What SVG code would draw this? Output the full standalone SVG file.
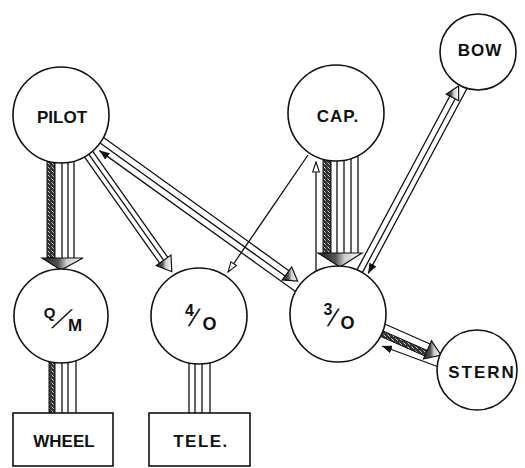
<svg xmlns="http://www.w3.org/2000/svg" width="525" height="468" viewBox="0 0 525 468">
<style>
.nd{fill:#fff;stroke:#111;stroke-width:1.6}
.ln{stroke:#111;stroke-width:1.3;fill:none}
.lb{font-family:"Liberation Sans",Arial,sans-serif;font-weight:bold;font-size:17px;fill:#111;text-anchor:middle}
.fr{font-family:"Liberation Sans",Arial,sans-serif;font-weight:bold;fill:#111;text-anchor:middle}
.sl{font-family:"Liberation Sans",Arial,sans-serif;font-weight:normal;fill:#111;text-anchor:middle}
.hd{fill:url(#hg);stroke:#111;stroke-width:1.2}
.band{fill:url(#grit);stroke:#111;stroke-width:1}
</style>
<defs>
<pattern id="grit" width="4" height="4" patternUnits="userSpaceOnUse">
<rect width="4" height="4" fill="#333"/>
<rect x="1" y="0" width="1" height="1" fill="#aaa"/>
<rect x="3" y="2" width="1" height="1" fill="#888"/>
<rect x="0" y="3" width="1" height="1" fill="#ccc"/>
</pattern>
<linearGradient id="hg" x1="0" y1="0" x2="1" y2="0">
<stop offset="0" stop-color="#222"/>
<stop offset="0.4" stop-color="#555"/>
<stop offset="0.6" stop-color="#ccc"/>
<stop offset="1" stop-color="#fff"/>
</linearGradient>
<marker id="af" viewBox="0 0 10 8" refX="10" refY="4" markerWidth="10" markerHeight="8" markerUnits="userSpaceOnUse" orient="auto">
<path d="M0,0 L10,4 L0,8 Z" fill="#111"/>
</marker>
<marker id="ao" viewBox="0 0 12 8" refX="11" refY="4" markerWidth="12" markerHeight="8" markerUnits="userSpaceOnUse" orient="auto">
<path d="M1,0.7 L11,4 L1,7.3 Z" fill="#fff" stroke="#111" stroke-width="1.1"/>
</marker>
</defs>

<g id="connectors">
<g id="pilot-qm">
<rect class="band" x="47" y="140" width="8" height="118"/>
<line class="ln" x1="62" y1="140" x2="62" y2="258"/>
<line class="ln" x1="68" y1="140" x2="68" y2="258"/>
<line class="ln" x1="74" y1="140" x2="74" y2="258"/>
<polygon class="hd" points="42,258 83,258 61,270"/>
</g>
<g id="qm-wheel">
<rect class="band" x="49" y="345" width="6" height="68"/>
<line class="ln" x1="62" y1="345" x2="62" y2="413"/>
<line class="ln" x1="68" y1="345" x2="68" y2="413"/>
<line class="ln" x1="76" y1="345" x2="76" y2="413"/>
</g>
<g id="fo-tele">
<line class="ln" x1="189" y1="345" x2="189" y2="413"/>
<line class="ln" x1="195" y1="345" x2="195" y2="413"/>
<line class="ln" x1="202" y1="345" x2="202" y2="413"/>
<line class="ln" x1="210" y1="345" x2="210" y2="413"/>
</g>
<g id="pilot-fo">
<line class="ln" x1="80" y1="150.6" x2="159.6" y2="263.2"/>
<line class="ln" x1="84.1" y1="147.7" x2="163.7" y2="260.3"/>
<line class="ln" x1="88.2" y1="144.8" x2="167.8" y2="257.4"/>
<polygon class="hd" points="156.3,265.5 171,255.1 171.8,271.7"/>
</g>
<g id="pilot-to">
<line class="ln" x1="97.3" y1="133" x2="288.9" y2="270.7"/>
<line class="ln" x1="93.5" y1="138.3" x2="285.1" y2="276"/>
<polygon class="hd" points="282.3,279.9 291.7,266.9 297.6,281"/>
<line class="ln" x1="300.8" y1="295.3" x2="99.4" y2="150.6" marker-end="url(#af)"/>
</g>
<line id="cap-fo" class="ln" x1="308" y1="155" x2="228" y2="272" marker-end="url(#ao)"/>
<g id="cap-to">
<line class="ln" x1="316" y1="290" x2="316" y2="162" marker-end="url(#ao)"/>
<rect class="band" x="323" y="140" width="8" height="113"/>
<line class="ln" x1="337" y1="140" x2="337" y2="253"/>
<line class="ln" x1="344" y1="140" x2="344" y2="253"/>
<line class="ln" x1="351" y1="140" x2="351" y2="253"/>
<line class="ln" x1="358" y1="140" x2="358" y2="253"/>
<polygon class="hd" points="318,253 362,253 340,267"/>
</g>
<g id="to-bow">
<line class="ln" x1="348.6" y1="285.6" x2="449.9" y2="96"/>
<line class="ln" x1="353.9" y1="288.4" x2="455.2" y2="98.8"/>
<polygon class="hd" points="446.3,94.1 458.7,100.7 458.6,85.9"/>
<line class="ln" x1="474.2" y1="75" x2="368.2" y2="273.4" marker-end="url(#af)"/>
</g>
<g id="to-stern">
<line class="ln" x1="378" y1="321" x2="430" y2="344"/>
<polygon class="band" points="375.2,327.4 427.2,350.4 424.7,355.9 372.7,332.9"/>
<polygon class="hd" points="431.5,340.8 423.4,359 441,355"/>
<line class="ln" x1="440" y1="367.5" x2="382" y2="346" marker-end="url(#af)"/>
</g>
</g>

<g id="pilot"><circle class="nd" cx="61" cy="115" r="48"/><text class="lb" x="62" y="123">PILOT</text></g>
<g id="cap"><circle class="nd" cx="336" cy="113" r="48"/><text class="lb" x="338" y="122" letter-spacing="1">CAP.</text></g>
<g id="bow"><circle class="nd" cx="478" cy="52" r="38"/><text class="lb" x="480" y="56" font-size="16" letter-spacing="1">BOW</text></g>
<g id="qm"><circle class="nd" cx="61" cy="316" r="47"/>
<text class="fr" x="49.5" y="318" font-size="15">Q</text>
<text class="sl" font-size="26" transform="translate(54.6,328) skewX(-38)">/</text>
<text class="fr" x="75" y="331" font-size="17">M</text></g>
<g id="fo"><circle class="nd" cx="199" cy="316" r="48"/>
<text class="fr" x="189.5" y="316" font-size="16">4</text>
<text class="sl" font-size="24" transform="translate(191,326) skewX(-20)">/</text>
<text class="fr" x="209.5" y="330" font-size="18">O</text></g>
<g id="to"><circle class="nd" cx="338" cy="314" r="48"/>
<text class="fr" x="328" y="315" font-size="16">3</text>
<text class="sl" font-size="24" transform="translate(330,326) skewX(-20)">/</text>
<text class="fr" x="347.5" y="329" font-size="18">O</text></g>
<g id="stern"><circle class="nd" cx="477" cy="370" r="40"/><text class="lb" x="482" y="378" letter-spacing="2">STERN</text></g>
<g id="wheel"><rect class="nd" x="13" y="413" width="100" height="53"/><text class="lb" x="64" y="447">WHEEL</text></g>
<g id="tele"><rect class="nd" x="149" y="413" width="101" height="53"/><text class="lb" x="201" y="447" letter-spacing="1.5">TELE.</text></g>
</svg>
